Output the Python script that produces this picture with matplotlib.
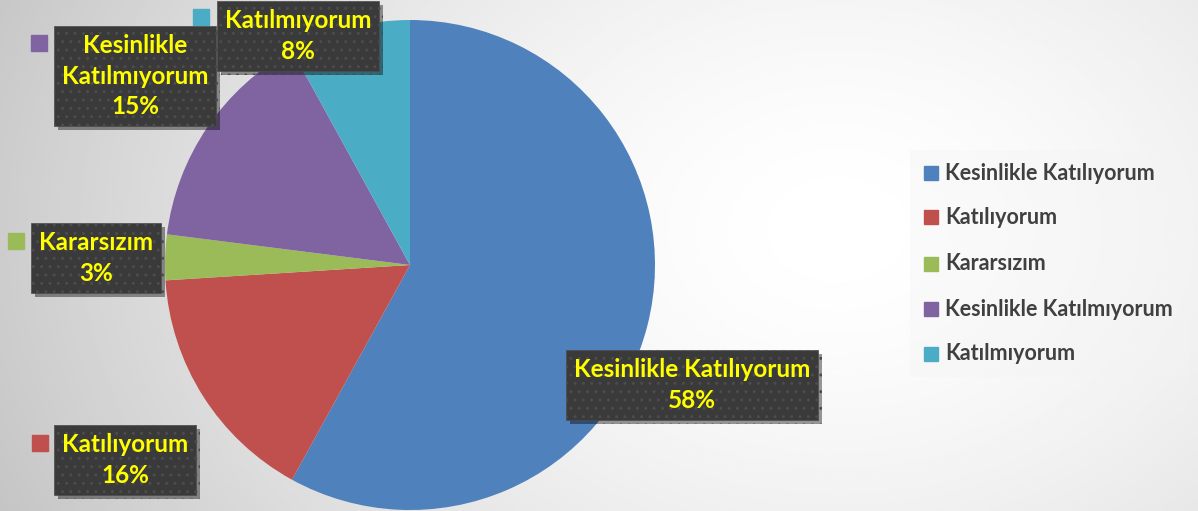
import numpy as np
import matplotlib.pyplot as plt
import matplotlib.patheffects as pe

categories = ['Kesinlikle Katılıyorum', 'Katılıyorum', 'Kararsızım',
              'Kesinlikle Katılmıyorum', 'Katılmıyorum']
values = [58, 16, 3, 15, 8]
colors = ['#4f81bd', '#c0504d', '#9bbb59', '#8064a2', '#4bacc6']

# label text (with line breaks) and box centres / key squares in pixels
label_text = ['Kesinlikle Katılıyorum\n58%', 'Katılıyorum\n16%', 'Kararsızım\n3%',
              'Kesinlikle\nKatılmıyorum\n15%', 'Katılmıyorum\n8%']
label_pos = [(692, 385), (125, 460), (96, 258), (135, 76), (298, 36)]
key_pos = [None, (40, 443), (16, 241), (39, 43), (201, 17)]

W, H = 1198, 511
fig = plt.figure(figsize=(W / 100, H / 100), dpi=100)

# background gradient
bg = fig.add_axes([0, 0, 1, 1])
xx, yy = np.meshgrid(np.linspace(0, 1, 400), np.linspace(0, 1, 200))
d = np.sqrt(((xx - 0.70) / 0.75) ** 2 + ((yy - 0.45) / 1.3) ** 2)
v = 1 - 0.22 * np.clip(d, 0, 1.2) ** 1.6
bg.imshow(v, cmap='gray', vmin=0, vmax=1, aspect='auto', extent=[0, 1, 0, 1])
bg.axis('off')

# pie
ax = fig.add_axes([165 / W, 1 / H, 490 / W, 490 / H])
ax.pie(values, colors=colors, startangle=90, counterclock=False, radius=1,
       wedgeprops=dict(linewidth=0))
ax.set_xlim(-1, 1)
ax.set_ylim(-1, 1)
ax.set_aspect('equal')
ax.axis('off')

# overlay in pixel coordinates
ov = fig.add_axes([0, 0, 1, 1])
ov.set_xlim(0, W)
ov.set_ylim(H, 0)
ov.axis('off')

font = ['Lato', 'DejaVu Sans']
for txt, (x, y), c, k in zip(label_text, label_pos, colors, key_pos):
    t = ov.text(x, y, txt, ha='center', va='center', fontsize=17.5,
                fontweight='bold', family=font, color='#ffff00', linespacing=1.42,
                bbox=dict(boxstyle='square,pad=0.32', facecolor='#3a3a3a',
                          edgecolor='#4c4c4c', hatch='..', linewidth=0.5))
    t.get_bbox_patch().set_path_effects(
        [pe.SimplePatchShadow(offset=(3, -3), shadow_rgbFace='black', alpha=0.4),
         pe.Normal()])
    if k is not None:
        ov.plot(k[0], k[1], marker='s', markersize=11, color=c, linestyle='none')

# legend
ov.add_patch(plt.Rectangle((910, 150), 280, 227, facecolor='#f4f4f4',
                           edgecolor='none', alpha=0.35))
leg_y = [173, 217, 264, 309, 354]
for name, c, y in zip(categories, colors, leg_y):
    ov.plot(931, y, marker='s', markersize=10, color=c, linestyle='none')
    ov.text(945, y, name, ha='left', va='center', fontsize=15.5,
            fontweight='bold', family=font, color='#404040')

fig.savefig('out.png', dpi=100)
